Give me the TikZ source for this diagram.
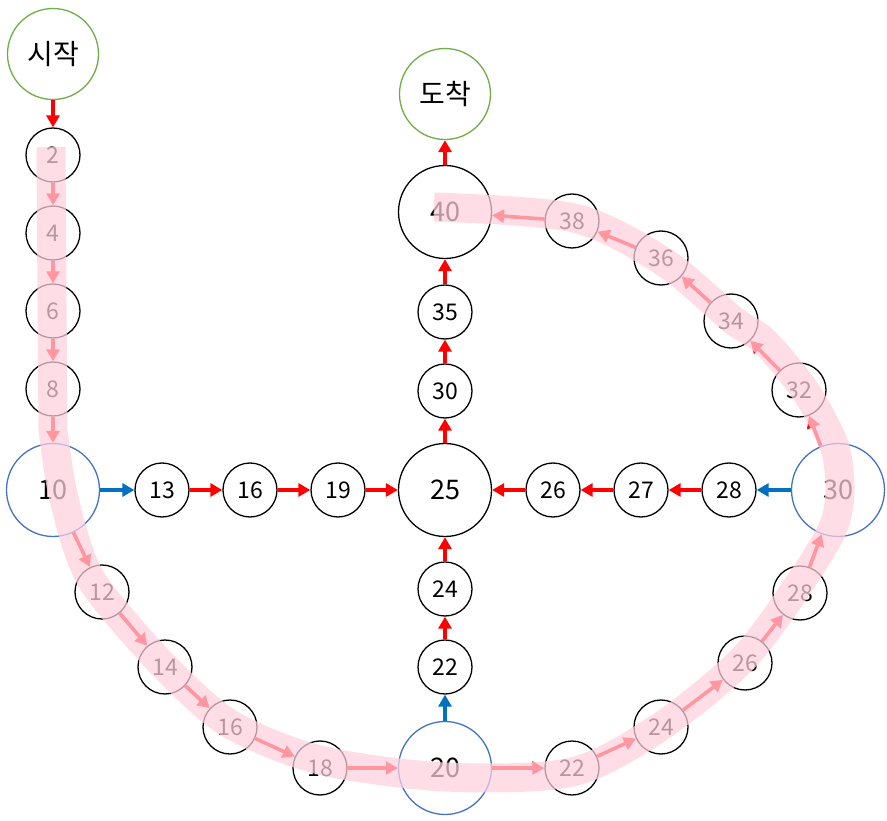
\documentclass[tikz,border=0pt]{standalone}
\usepackage{fontspec}
\setmainfont{Noto Sans CJK KR}
\usepackage{tikz}
\usetikzlibrary{arrows.meta}
\definecolor{yutgreen}{RGB}{112,173,71}
\definecolor{yutblue}{RGB}{68,114,196}
\definecolor{jumpblue}{RGB}{0,112,192}
\definecolor{trailpink}{RGB}{255,208,222}

\begin{document}
\begin{tikzpicture}[x=1pt, y=-1pt,
        cell/.style={circle, draw=black, line width=1.3pt, minimum size=54pt, inner sep=0pt, font=\fontsize{23}{27}\selectfont},
        corner/.style={cell, minimum size=93pt, font=\fontsize{27}{32}\selectfont},
        cornerb/.style={corner, draw=yutblue},
        ends/.style={corner, minimum size=91pt, draw=yutgreen, font=\fontsize{28}{33}\selectfont},
        line/.style={draw=red, line width=3.6pt, -{Triangle[length=12pt,width=13pt]}},
        bline/.style={line, draw=jumpblue},
        trail/.style={draw=trailpink, line width=29pt, opacity=0.72, line cap=butt, line join=round}]
        \useasboundingbox (0,0) rectangle (887,821);

        % start / goal
        \node [ends] (start) at (53,54) {시작};
        \node [ends] (goal) at (445,94) {도착};

        % left column
        \node [cell] (l2) at (53,155) {2};
        \node [cell] (l4) at (53,233) {4};
        \node [cell] (l6) at (53,311) {6};
        \node [cell] (l8) at (53,389) {8};
        \node [cornerb] (l10) at (53,490) {10};

        % middle row
        \node [cell] (h13) at (162,490) {13};
        \node [cell] (h16) at (250,490) {16};
        \node [cell] (h19) at (338,490) {19};
        \node [corner] (mid) at (445,490) {25};
        \node [cell] (h26) at (553,490) {26};
        \node [cell] (h27) at (641,490) {27};
        \node [cell] (h28) at (729,490) {28};
        \node [cornerb] (r30) at (838,490) {30};

        % middle column
        \node [cornerb] (b20) at (445,768) {20};
        \node [cell] (v22) at (445,667) {22};
        \node [cell] (v24) at (445,589) {24};
        \node [cell] (v30) at (445,391) {30};
        \node [cell] (v35) at (445,312) {35};
        \node [corner] (top40) at (445,212) {40};

        % outer ring
        \node [cell] (b12) at (102,592) {12};
        \node [cell] (b14) at (165,667) {14};
        \node [cell] (b16) at (230,727) {16};
        \node [cell] (b18) at (320,768) {18};
        \node [cell] (b22) at (572,768) {22};
        \node [cell] (b24) at (661,727) {24};
        \node [cell] (b26) at (745,663) {26};
        \node [cell] (b28) at (800,593) {28};
        \node [cell] (u32) at (799,390) {32};
        \node [cell] (u34) at (731,321) {34};
        \node [cell] (u36) at (661,258) {36};
        \node [cell] (u38) at (572,221) {38};

        \path [line] (start) -- (l2);
        \path [line] (l2) -- (l4);
        \path [line] (l4) -- (l6);
        \path [line] (l6) -- (l8);
        \path [line] (l8) -- (l10);

        \path [bline] (l10) -- (h13);
        \path [line] (h13) -- (h16);
        \path [line] (h16) -- (h19);
        \path [line] (h19) -- (mid);

        \path [bline] (r30) -- (h28);
        \path [line] (h28) -- (h27);
        \path [line] (h27) -- (h26);
        \path [line] (h26) -- (mid);

        \path [bline] (b20) -- (v22);
        \path [line] (v22) -- (v24);
        \path [line] (v24) -- (mid);
        \path [line] (mid) -- (v30);
        \path [line] (v30) -- (v35);
        \path [line] (v35) -- (top40);
        \path [line] (top40) -- (goal);

        \path [line] (l10) -- (b12);
        \path [line] (b12) -- (b14);
        \path [line] (b14) -- (b16);
        \path [line] (b16) -- (b18);
        \path [line] (b18) -- (b20);
        \path [line] (b20) -- (b22);
        \path [line] (b22) -- (b24);
        \path [line] (b24) -- (b26);
        \path [line] (b26) -- (b28);
        \path [line] (b28) -- (r30);
        \path [line] (r30) -- (u32);
        \path [line] (u32) -- (u34);
        \path [line] (u34) -- (u36);
        \path [line] (u36) -- (u38);
        \path [line] (u38) -- (top40);

        % route taken
        \draw [trail] (51,147) -- (52,300) -- plot[smooth, tension=0.5] coordinates {(53,430) (62,490) (80,555) (102,595) (165,667) (230,724) (320,760) (445,777) (572,772) (660,727) (742,660) (795,590) (832,530) (840,490) (834,445) (806,392) (765,342) (733,320) (664,262) (574,218) (434,207)};
\end{tikzpicture}
\end{document}
